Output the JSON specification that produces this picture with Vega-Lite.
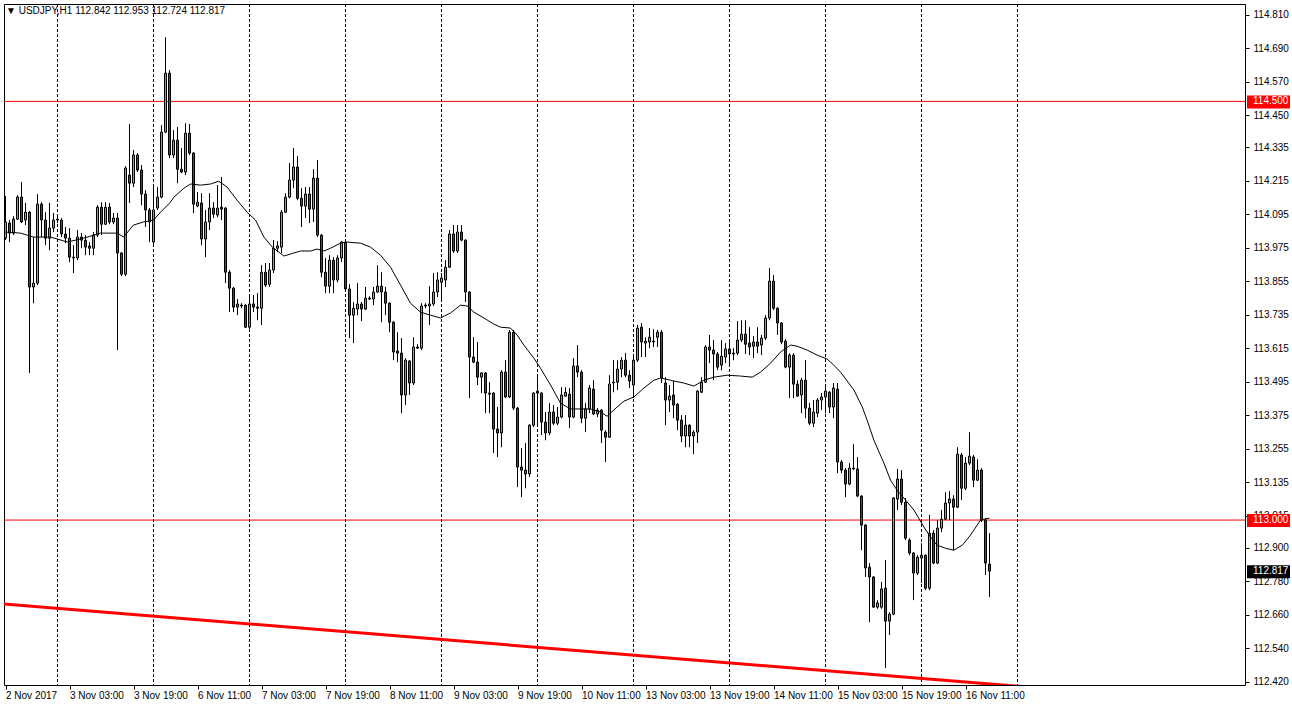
{
  "$schema": "https://vega.github.io/schema/vega-lite/v6.json",
  "width": 1241,
  "height": 681,
  "autosize": {"type": "none"},
  "padding": {"left": 4, "top": 4, "right": 47, "bottom": 23},
  "background": "white",
  "title": {"text": "▼ USDJPY,H1  112.842 112.953 112.724 112.817", "anchor": "start", "orient": "top", "offset": -12, "fontSize": 10, "fontWeight": "normal", "font": "Liberation Sans", "color": "black", "dx": 2, "frame": "group"},
  "config": {
    "font": "Liberation Sans",
    "view": {"stroke": "black", "strokeWidth": 1},
    "scale": {"continuousPadding": 0},
    "axis": {"labelFont": "Liberation Sans", "labelFontSize": 10, "labelColor": "black", "tickColor": "black", "domain": false, "grid": false, "title": null, "labelOverlap": false, "labelFlush": false, "labelBound": false}
  },
  "datasets": {
    "candles": [
      {"i":-13,"o":114.010,"h":114.161,"l":114.003,"c":114.068},
      {"i":-12,"o":114.064,"h":114.075,"l":113.996,"c":114.028},
      {"i":-11,"o":114.028,"h":114.089,"l":114.021,"c":114.078},
      {"i":-10,"o":114.078,"h":114.164,"l":114.075,"c":114.157},
      {"i":-9,"o":114.157,"h":114.211,"l":114.064,"c":114.068},
      {"i":-8,"o":114.075,"h":114.136,"l":114.057,"c":114.103},
      {"i":-7,"o":114.103,"h":114.107,"l":113.527,"c":113.835},
      {"i":-6,"o":113.835,"h":114.014,"l":113.777,"c":113.849},
      {"i":-5,"o":113.849,"h":114.168,"l":113.842,"c":114.132},
      {"i":-4,"o":114.132,"h":114.139,"l":114.014,"c":114.075},
      {"i":-3,"o":114.075,"h":114.103,"l":113.985,"c":114.010},
      {"i":-2,"o":114.010,"h":114.136,"l":113.967,"c":114.046},
      {"i":-1,"o":114.046,"h":114.100,"l":114.032,"c":114.075},
      {"i":0,"o":114.075,"h":114.089,"l":114.064,"c":114.078},
      {"i":1,"o":114.075,"h":114.082,"l":114.014,"c":114.025},
      {"i":2,"o":114.025,"h":114.050,"l":113.992,"c":114.010},
      {"i":3,"o":114.010,"h":114.046,"l":113.924,"c":113.942},
      {"i":4,"o":113.942,"h":113.985,"l":113.885,"c":113.939},
      {"i":5,"o":113.939,"h":114.039,"l":113.931,"c":114.014},
      {"i":6,"o":114.014,"h":114.028,"l":113.974,"c":114.003},
      {"i":7,"o":114.003,"h":114.021,"l":113.949,"c":113.978},
      {"i":8,"o":113.982,"h":113.996,"l":113.949,"c":113.974},
      {"i":9,"o":113.974,"h":114.032,"l":113.949,"c":114.021},
      {"i":10,"o":114.021,"h":114.128,"l":114.014,"c":114.121},
      {"i":11,"o":114.121,"h":114.139,"l":114.021,"c":114.060},
      {"i":12,"o":114.060,"h":114.139,"l":114.057,"c":114.121},
      {"i":13,"o":114.121,"h":114.136,"l":114.060,"c":114.068},
      {"i":14,"o":114.068,"h":114.100,"l":114.060,"c":114.082},
      {"i":15,"o":114.082,"h":114.100,"l":113.609,"c":113.957},
      {"i":16,"o":113.957,"h":113.960,"l":113.874,"c":113.881},
      {"i":17,"o":113.881,"h":114.268,"l":113.874,"c":114.261},
      {"i":18,"o":114.236,"h":114.419,"l":114.136,"c":114.207},
      {"i":19,"o":114.207,"h":114.326,"l":114.193,"c":114.308},
      {"i":20,"o":114.308,"h":114.315,"l":114.247,"c":114.254},
      {"i":21,"o":114.254,"h":114.272,"l":114.128,"c":114.168},
      {"i":22,"o":114.168,"h":114.182,"l":114.050,"c":114.111},
      {"i":23,"o":114.111,"h":114.118,"l":113.996,"c":114.068},
      {"i":24,"o":113.996,"h":114.193,"l":113.985,"c":114.111},
      {"i":25,"o":114.118,"h":114.193,"l":114.111,"c":114.157},
      {"i":26,"o":114.157,"h":114.415,"l":114.153,"c":114.390},
      {"i":27,"o":114.390,"h":114.730,"l":114.386,"c":114.601},
      {"i":28,"o":114.601,"h":114.612,"l":114.297,"c":114.308},
      {"i":29,"o":114.308,"h":114.397,"l":114.297,"c":114.361},
      {"i":30,"o":114.361,"h":114.408,"l":114.207,"c":114.257},
      {"i":31,"o":114.257,"h":114.333,"l":114.243,"c":114.247},
      {"i":32,"o":114.247,"h":114.422,"l":114.236,"c":114.386},
      {"i":33,"o":114.386,"h":114.419,"l":114.308,"c":114.315},
      {"i":34,"o":114.315,"h":114.318,"l":114.100,"c":114.132},
      {"i":35,"o":114.125,"h":114.175,"l":114.121,"c":114.139},
      {"i":36,"o":114.136,"h":114.171,"l":113.985,"c":114.007},
      {"i":37,"o":114.007,"h":114.111,"l":113.942,"c":114.068},
      {"i":38,"o":114.068,"h":114.171,"l":114.039,"c":114.118},
      {"i":39,"o":114.118,"h":114.139,"l":114.082,"c":114.096},
      {"i":40,"o":114.093,"h":114.200,"l":114.085,"c":114.118},
      {"i":41,"o":114.121,"h":114.229,"l":114.075,"c":114.114},
      {"i":42,"o":114.118,"h":114.121,"l":113.849,"c":113.888},
      {"i":43,"o":113.888,"h":113.896,"l":113.745,"c":113.831},
      {"i":44,"o":113.831,"h":113.835,"l":113.745,"c":113.763},
      {"i":45,"o":113.763,"h":113.792,"l":113.734,"c":113.774},
      {"i":46,"o":113.770,"h":113.777,"l":113.759,"c":113.767},
      {"i":47,"o":113.770,"h":113.773,"l":113.688,"c":113.691},
      {"i":48,"o":113.691,"h":113.799,"l":113.681,"c":113.774},
      {"i":49,"o":113.774,"h":113.806,"l":113.745,"c":113.763},
      {"i":50,"o":113.763,"h":113.813,"l":113.716,"c":113.759},
      {"i":51,"o":113.759,"h":113.913,"l":113.699,"c":113.888},
      {"i":52,"o":113.888,"h":113.921,"l":113.835,"c":113.842},
      {"i":53,"o":113.845,"h":113.921,"l":113.835,"c":113.896},
      {"i":54,"o":113.896,"h":114.003,"l":113.885,"c":113.974},
      {"i":55,"o":113.974,"h":113.999,"l":113.960,"c":113.982},
      {"i":56,"o":113.978,"h":114.111,"l":113.957,"c":114.103},
      {"i":57,"o":114.103,"h":114.171,"l":114.100,"c":114.157},
      {"i":58,"o":114.157,"h":114.279,"l":114.153,"c":114.218},
      {"i":59,"o":114.218,"h":114.333,"l":114.189,"c":114.265},
      {"i":60,"o":114.265,"h":114.304,"l":114.146,"c":114.153},
      {"i":61,"o":114.153,"h":114.189,"l":114.050,"c":114.125},
      {"i":62,"o":114.125,"h":114.193,"l":114.082,"c":114.168},
      {"i":63,"o":114.168,"h":114.193,"l":114.064,"c":114.114},
      {"i":64,"o":114.114,"h":114.257,"l":114.068,"c":114.225},
      {"i":65,"o":114.225,"h":114.290,"l":114.014,"c":114.021},
      {"i":66,"o":114.021,"h":114.024,"l":113.870,"c":113.888},
      {"i":67,"o":113.888,"h":113.939,"l":113.813,"c":113.838},
      {"i":68,"o":113.838,"h":113.949,"l":113.813,"c":113.931},
      {"i":69,"o":113.931,"h":113.942,"l":113.813,"c":113.860},
      {"i":70,"o":113.860,"h":113.949,"l":113.852,"c":113.939},
      {"i":71,"o":113.939,"h":113.999,"l":113.924,"c":113.996},
      {"i":72,"o":113.996,"h":113.999,"l":113.824,"c":113.828},
      {"i":73,"o":113.828,"h":113.845,"l":113.652,"c":113.734},
      {"i":74,"o":113.734,"h":113.781,"l":113.634,"c":113.759},
      {"i":75,"o":113.756,"h":113.849,"l":113.734,"c":113.774},
      {"i":76,"o":113.774,"h":113.781,"l":113.713,"c":113.756},
      {"i":77,"o":113.756,"h":113.835,"l":113.752,"c":113.795},
      {"i":78,"o":113.792,"h":113.802,"l":113.788,"c":113.795},
      {"i":79,"o":113.792,"h":113.835,"l":113.770,"c":113.817},
      {"i":80,"o":113.817,"h":113.913,"l":113.814,"c":113.838},
      {"i":81,"o":113.838,"h":113.888,"l":113.709,"c":113.817},
      {"i":82,"o":113.817,"h":113.835,"l":113.734,"c":113.777},
      {"i":83,"o":113.777,"h":113.780,"l":113.673,"c":113.709},
      {"i":84,"o":113.709,"h":113.712,"l":113.573,"c":113.602},
      {"i":85,"o":113.605,"h":113.673,"l":113.566,"c":113.598},
      {"i":86,"o":113.598,"h":113.652,"l":113.383,"c":113.448},
      {"i":87,"o":113.448,"h":113.580,"l":113.412,"c":113.573},
      {"i":88,"o":113.570,"h":113.573,"l":113.448,"c":113.491},
      {"i":89,"o":113.491,"h":113.655,"l":113.484,"c":113.620},
      {"i":90,"o":113.620,"h":113.630,"l":113.613,"c":113.616},
      {"i":91,"o":113.616,"h":113.777,"l":113.609,"c":113.767},
      {"i":92,"o":113.770,"h":113.777,"l":113.759,"c":113.767},
      {"i":93,"o":113.767,"h":113.838,"l":113.699,"c":113.774},
      {"i":94,"o":113.774,"h":113.885,"l":113.767,"c":113.817},
      {"i":95,"o":113.817,"h":113.888,"l":113.799,"c":113.860},
      {"i":96,"o":113.852,"h":113.885,"l":113.788,"c":113.867},
      {"i":97,"o":113.860,"h":113.931,"l":113.835,"c":113.906},
      {"i":98,"o":113.906,"h":114.039,"l":113.903,"c":114.025},
      {"i":99,"o":114.025,"h":114.057,"l":113.957,"c":113.964},
      {"i":100,"o":113.964,"h":114.057,"l":113.957,"c":114.032},
      {"i":101,"o":114.032,"h":114.057,"l":113.999,"c":114.003},
      {"i":102,"o":114.003,"h":114.006,"l":113.781,"c":113.817},
      {"i":103,"o":113.817,"h":113.820,"l":113.437,"c":113.584},
      {"i":104,"o":113.584,"h":113.655,"l":113.562,"c":113.566},
      {"i":105,"o":113.566,"h":113.638,"l":113.484,"c":113.512},
      {"i":106,"o":113.512,"h":113.530,"l":113.455,"c":113.527},
      {"i":107,"o":113.527,"h":113.530,"l":113.383,"c":113.455},
      {"i":108,"o":113.455,"h":113.494,"l":113.383,"c":113.451},
      {"i":109,"o":113.455,"h":113.458,"l":113.240,"c":113.326},
      {"i":110,"o":113.326,"h":113.405,"l":113.226,"c":113.312},
      {"i":111,"o":113.312,"h":113.537,"l":113.261,"c":113.530},
      {"i":112,"o":113.530,"h":113.573,"l":113.437,"c":113.441},
      {"i":113,"o":113.441,"h":113.681,"l":113.437,"c":113.673},
      {"i":114,"o":113.673,"h":113.681,"l":113.394,"c":113.401},
      {"i":115,"o":113.401,"h":113.405,"l":113.118,"c":113.190},
      {"i":116,"o":113.190,"h":113.258,"l":113.082,"c":113.179},
      {"i":117,"o":113.179,"h":113.276,"l":113.114,"c":113.165},
      {"i":118,"o":113.165,"h":113.343,"l":113.154,"c":113.340},
      {"i":119,"o":113.340,"h":113.458,"l":113.333,"c":113.455},
      {"i":120,"o":113.462,"h":113.519,"l":113.340,"c":113.455},
      {"i":121,"o":113.455,"h":113.458,"l":113.304,"c":113.351},
      {"i":122,"o":113.351,"h":113.387,"l":113.286,"c":113.312},
      {"i":123,"o":113.312,"h":113.419,"l":113.304,"c":113.387},
      {"i":124,"o":113.387,"h":113.412,"l":113.340,"c":113.347},
      {"i":125,"o":113.347,"h":113.405,"l":113.340,"c":113.369},
      {"i":126,"o":113.369,"h":113.476,"l":113.365,"c":113.448},
      {"i":127,"o":113.444,"h":113.476,"l":113.441,"c":113.458},
      {"i":128,"o":113.451,"h":113.473,"l":113.329,"c":113.369},
      {"i":129,"o":113.369,"h":113.580,"l":113.365,"c":113.552},
      {"i":130,"o":113.552,"h":113.627,"l":113.512,"c":113.530},
      {"i":131,"o":113.530,"h":113.537,"l":113.347,"c":113.365},
      {"i":132,"o":113.365,"h":113.419,"l":113.315,"c":113.398},
      {"i":133,"o":113.398,"h":113.484,"l":113.383,"c":113.473},
      {"i":134,"o":113.469,"h":113.501,"l":113.376,"c":113.380},
      {"i":135,"o":113.380,"h":113.401,"l":113.369,"c":113.394},
      {"i":136,"o":113.394,"h":113.397,"l":113.276,"c":113.322},
      {"i":137,"o":113.315,"h":113.322,"l":113.208,"c":113.297},
      {"i":138,"o":113.297,"h":113.519,"l":113.294,"c":113.487},
      {"i":139,"o":113.491,"h":113.573,"l":113.458,"c":113.494},
      {"i":140,"o":113.494,"h":113.573,"l":113.466,"c":113.541},
      {"i":141,"o":113.541,"h":113.584,"l":113.512,"c":113.573},
      {"i":142,"o":113.573,"h":113.598,"l":113.512,"c":113.519},
      {"i":143,"o":113.519,"h":113.537,"l":113.473,"c":113.498},
      {"i":144,"o":113.484,"h":113.584,"l":113.437,"c":113.573},
      {"i":145,"o":113.573,"h":113.699,"l":113.566,"c":113.688},
      {"i":146,"o":113.691,"h":113.706,"l":113.584,"c":113.638},
      {"i":147,"o":113.634,"h":113.655,"l":113.584,"c":113.641},
      {"i":148,"o":113.638,"h":113.688,"l":113.616,"c":113.655},
      {"i":149,"o":113.641,"h":113.684,"l":113.620,"c":113.638},
      {"i":150,"o":113.655,"h":113.681,"l":113.620,"c":113.673},
      {"i":151,"o":113.673,"h":113.681,"l":113.491,"c":113.509},
      {"i":152,"o":113.491,"h":113.512,"l":113.340,"c":113.430},
      {"i":153,"o":113.430,"h":113.484,"l":113.387,"c":113.444},
      {"i":154,"o":113.448,"h":113.498,"l":113.365,"c":113.412},
      {"i":155,"o":113.415,"h":113.419,"l":113.322,"c":113.358},
      {"i":156,"o":113.358,"h":113.376,"l":113.279,"c":113.301},
      {"i":157,"o":113.301,"h":113.376,"l":113.261,"c":113.340},
      {"i":158,"o":113.340,"h":113.343,"l":113.261,"c":113.301},
      {"i":159,"o":113.301,"h":113.322,"l":113.236,"c":113.315},
      {"i":160,"o":113.315,"h":113.466,"l":113.276,"c":113.462},
      {"i":161,"o":113.458,"h":113.512,"l":113.455,"c":113.494},
      {"i":162,"o":113.494,"h":113.627,"l":113.491,"c":113.620},
      {"i":163,"o":113.620,"h":113.663,"l":113.562,"c":113.609},
      {"i":164,"o":113.609,"h":113.645,"l":113.501,"c":113.595},
      {"i":165,"o":113.595,"h":113.602,"l":113.537,"c":113.548},
      {"i":166,"o":113.555,"h":113.645,"l":113.537,"c":113.587},
      {"i":167,"o":113.584,"h":113.634,"l":113.562,"c":113.613},
      {"i":168,"o":113.613,"h":113.645,"l":113.552,"c":113.595},
      {"i":169,"o":113.598,"h":113.616,"l":113.573,"c":113.595},
      {"i":170,"o":113.598,"h":113.713,"l":113.591,"c":113.645},
      {"i":171,"o":113.645,"h":113.716,"l":113.638,"c":113.666},
      {"i":172,"o":113.666,"h":113.716,"l":113.595,"c":113.630},
      {"i":173,"o":113.634,"h":113.691,"l":113.591,"c":113.620},
      {"i":174,"o":113.623,"h":113.659,"l":113.580,"c":113.638},
      {"i":175,"o":113.638,"h":113.691,"l":113.598,"c":113.623},
      {"i":176,"o":113.627,"h":113.663,"l":113.591,"c":113.652},
      {"i":177,"o":113.652,"h":113.734,"l":113.645,"c":113.724},
      {"i":178,"o":113.724,"h":113.903,"l":113.716,"c":113.856},
      {"i":179,"o":113.856,"h":113.878,"l":113.752,"c":113.759},
      {"i":180,"o":113.759,"h":113.762,"l":113.663,"c":113.706},
      {"i":181,"o":113.706,"h":113.709,"l":113.630,"c":113.638},
      {"i":182,"o":113.641,"h":113.648,"l":113.544,"c":113.548},
      {"i":183,"o":113.548,"h":113.598,"l":113.437,"c":113.591},
      {"i":184,"o":113.591,"h":113.598,"l":113.437,"c":113.487},
      {"i":185,"o":113.487,"h":113.501,"l":113.441,"c":113.444},
      {"i":186,"o":113.448,"h":113.509,"l":113.383,"c":113.501},
      {"i":187,"o":113.501,"h":113.573,"l":113.365,"c":113.401},
      {"i":188,"o":113.401,"h":113.419,"l":113.340,"c":113.347},
      {"i":189,"o":113.347,"h":113.430,"l":113.333,"c":113.387},
      {"i":190,"o":113.383,"h":113.437,"l":113.369,"c":113.430},
      {"i":191,"o":113.430,"h":113.455,"l":113.394,"c":113.441},
      {"i":192,"o":113.441,"h":113.476,"l":113.383,"c":113.462},
      {"i":193,"o":113.458,"h":113.462,"l":113.383,"c":113.405},
      {"i":194,"o":113.405,"h":113.491,"l":113.365,"c":113.473},
      {"i":195,"o":113.469,"h":113.491,"l":113.168,"c":113.208},
      {"i":196,"o":113.208,"h":113.215,"l":113.168,"c":113.179},
      {"i":197,"o":113.179,"h":113.186,"l":113.082,"c":113.129},
      {"i":198,"o":113.129,"h":113.204,"l":113.125,"c":113.186},
      {"i":199,"o":113.186,"h":113.272,"l":113.179,"c":113.183},
      {"i":200,"o":113.183,"h":113.226,"l":113.082,"c":113.086},
      {"i":201,"o":113.086,"h":113.089,"l":112.892,"c":112.982},
      {"i":202,"o":112.982,"h":112.985,"l":112.796,"c":112.828},
      {"i":203,"o":112.831,"h":112.846,"l":112.634,"c":112.796},
      {"i":204,"o":112.796,"h":112.799,"l":112.685,"c":112.688},
      {"i":205,"o":112.688,"h":112.713,"l":112.682,"c":112.703},
      {"i":206,"o":112.688,"h":112.778,"l":112.682,"c":112.753},
      {"i":207,"o":112.756,"h":112.857,"l":112.470,"c":112.638},
      {"i":208,"o":112.638,"h":112.670,"l":112.588,"c":112.663},
      {"i":209,"o":112.663,"h":113.082,"l":112.659,"c":113.079},
      {"i":210,"o":113.075,"h":113.183,"l":113.036,"c":113.147},
      {"i":211,"o":113.147,"h":113.179,"l":113.054,"c":113.064},
      {"i":212,"o":113.064,"h":113.079,"l":112.928,"c":112.935},
      {"i":213,"o":112.928,"h":112.935,"l":112.874,"c":112.882},
      {"i":214,"o":112.882,"h":112.885,"l":112.713,"c":112.810},
      {"i":215,"o":112.810,"h":112.874,"l":112.803,"c":112.867},
      {"i":216,"o":112.864,"h":112.917,"l":112.774,"c":112.874},
      {"i":217,"o":112.874,"h":112.877,"l":112.749,"c":112.756},
      {"i":218,"o":112.756,"h":113.018,"l":112.749,"c":112.953},
      {"i":219,"o":112.953,"h":112.964,"l":112.842,"c":112.846},
      {"i":220,"o":112.846,"h":113.000,"l":112.842,"c":112.971},
      {"i":221,"o":112.971,"h":113.036,"l":112.957,"c":113.003},
      {"i":222,"o":113.003,"h":113.100,"l":113.000,"c":113.061},
      {"i":223,"o":113.061,"h":113.104,"l":113.000,"c":113.075},
      {"i":224,"o":113.075,"h":113.089,"l":112.892,"c":113.046},
      {"i":225,"o":113.046,"h":113.261,"l":113.043,"c":113.236},
      {"i":226,"o":113.233,"h":113.240,"l":113.072,"c":113.114},
      {"i":227,"o":113.114,"h":113.226,"l":113.107,"c":113.204},
      {"i":228,"o":113.204,"h":113.315,"l":113.197,"c":113.229},
      {"i":229,"o":113.226,"h":113.233,"l":113.118,"c":113.143},
      {"i":230,"o":113.143,"h":113.218,"l":113.140,"c":113.179},
      {"i":231,"o":113.179,"h":113.186,"l":112.993,"c":113.000},
      {"i":232,"o":113.000,"h":113.007,"l":112.803,"c":112.846},
      {"i":233,"o":112.842,"h":112.953,"l":112.724,"c":112.817}
    ],
    "ma": [
      {"i":-13,"ma":114.032},{"i":-9.25,"ma":114.028},{"i":-6,"ma":114.014},{"i":-1.75,"ma":114.014},{"i":2.5,"ma":113.996},{"i":6.5,"ma":114.010},{"i":10.75,"ma":114.028},{"i":15,"ma":114.028},{"i":16.5,"ma":114.014},{"i":19,"ma":114.057},{"i":21.5,"ma":114.068},{"i":24,"ma":114.075},{"i":25.75,"ma":114.103},{"i":28.25,"ma":114.139},{"i":29.1,"ma":114.157},{"i":31.6,"ma":114.189},{"i":33.25,"ma":114.204},{"i":35.75,"ma":114.200},{"i":38.25,"ma":114.204},{"i":40.3,"ma":114.214},{"i":42.4,"ma":114.193},{"i":44.9,"ma":114.146},{"i":47.4,"ma":114.103},{"i":49.5,"ma":114.075},{"i":51.6,"ma":114.014},{"i":53.7,"ma":113.978},{"i":56.6,"ma":113.946},{"i":59.1,"ma":113.957},{"i":60.75,"ma":113.964},{"i":63.25,"ma":113.964},{"i":64.9,"ma":113.971},{"i":66.6,"ma":113.964},{"i":68.25,"ma":113.974},{"i":70.75,"ma":113.992},{"i":72.4,"ma":113.996},{"i":75.75,"ma":113.992},{"i":78.25,"ma":113.978},{"i":80.75,"ma":113.949},{"i":83.25,"ma":113.906},{"i":85.75,"ma":113.842},{"i":88.25,"ma":113.777},{"i":90.75,"ma":113.745},{"i":93.25,"ma":113.734},{"i":95.75,"ma":113.724},{"i":98.25,"ma":113.742},{"i":100.75,"ma":113.770},{"i":102.4,"ma":113.767},{"i":104.1,"ma":113.745},{"i":106.6,"ma":113.724},{"i":109.1,"ma":113.702},{"i":110.75,"ma":113.691},{"i":113.25,"ma":113.688},{"i":114.9,"ma":113.663},{"i":116.6,"ma":113.627},{"i":119.1,"ma":113.580},{"i":120.75,"ma":113.544},{"i":123.25,"ma":113.484},{"i":125.75,"ma":113.419},{"i":128.25,"ma":113.398},{"i":130.75,"ma":113.398},{"i":133.25,"ma":113.398},{"i":135.75,"ma":113.387},{"i":137.4,"ma":113.372},{"i":139.9,"ma":113.405},{"i":141.6,"ma":113.426},{"i":144.1,"ma":113.441},{"i":146.6,"ma":113.473},{"i":149.1,"ma":113.501},{"i":150.75,"ma":113.509},{"i":153.25,"ma":113.501},{"i":154.1,"ma":113.498},{"i":156.6,"ma":113.491},{"i":159.1,"ma":113.480},{"i":161.6,"ma":113.501},{"i":164.1,"ma":113.512},{"i":167.4,"ma":113.519},{"i":170.75,"ma":113.516},{"i":173.7,"ma":113.512},{"i":175.75,"ma":113.530},{"i":178.25,"ma":113.562},{"i":180.75,"ma":113.602},{"i":183.25,"ma":113.627},{"i":184.9,"ma":113.623},{"i":187.4,"ma":113.609},{"i":189.9,"ma":113.591},{"i":192.4,"ma":113.577},{"i":194.1,"ma":113.555},{"i":195.75,"ma":113.530},{"i":199.1,"ma":113.466},{"i":201.2,"ma":113.405},{"i":202.4,"ma":113.358},{"i":204.1,"ma":113.286},{"i":206.6,"ma":113.204},{"i":208.25,"ma":113.143},{"i":209.9,"ma":113.107},{"i":212,"ma":113.072},{"i":214.1,"ma":113.036},{"i":216.6,"ma":112.975},{"i":218.25,"ma":112.939},{"i":219.9,"ma":112.910},{"i":222,"ma":112.899},{"i":224.1,"ma":112.892},{"i":226.2,"ma":112.910},{"i":228.25,"ma":112.946},{"i":230.75,"ma":113.000},{"i":233,"ma":113.007}
    ],
    "days": [{"i":0},{"i":24},{"i":48},{"i":72},{"i":96},{"i":120},{"i":144},{"i":168},{"i":192},{"i":216},{"i":240}],
    "trend": [{"i":-13.5,"p":112.699},{"i":250,"p":112.393}],
    "levels": [{"p":114.5},{"p":113.0}],
    "tags": [
      {"p":114.5,"label":"114.500","kind":"level"},
      {"p":113.0,"label":"113.000","kind":"level"},
      {"p":112.817,"label":"112.817","kind":"bid"}
    ]
  },
  "layer": [
    {
      "data": {"name": "days"},
      "mark": {"type": "rule", "color": "black", "strokeWidth": 1, "strokeDash": [3, 2]},
      "encoding": {
        "x": {"field": "i", "type": "quantitative", "title": null}
      }
    },
    {
      "data": {"name": "levels"},
      "mark": {"type": "rule", "color": "#ff0000", "strokeWidth": 1},
      "encoding": {
        "y": {"field": "p", "type": "quantitative", "title": null}
      }
    },
    {
      "data": {"name": "trend"},
      "mark": {"type": "line", "color": "#ff0000", "strokeWidth": 3, "clip": true},
      "encoding": {
        "x": {"field": "i", "type": "quantitative", "title": null},
        "y": {"field": "p", "type": "quantitative", "title": null}
      }
    },
    {
      "data": {"name": "candles"},
      "mark": {"type": "rule", "color": "black", "strokeWidth": 1},
      "encoding": {
        "x": {
          "field": "i", "type": "quantitative", "title": null,
          "scale": {"domain": [-13.375, 296.875], "nice": false, "zero": false, "padding": 0},
          "axis": {
            "orient": "bottom",
            "values": [-13, 3, 19, 35, 51, 67, 83, 99, 115, 131, 147, 163, 179, 195, 211, 227],
            "tickCount": 40,
            "labelExpr": "datum.value < 0 ? '2 Nov 2017' : ['3 Nov 03:00','3 Nov 19:00','6 Nov 11:00','7 Nov 03:00','7 Nov 19:00','8 Nov 11:00','9 Nov 03:00','9 Nov 19:00','10 Nov 11:00','13 Nov 03:00','13 Nov 19:00','14 Nov 11:00','15 Nov 03:00','15 Nov 19:00','16 Nov 11:00'][(datum.value - 3) / 16]",
            "tickSize": 4, "labelAlign": "left", "labelPadding": 1, "labelFlush": false, "labelOverlap": false, "labelBound": false, "grid": false, "domain": false
          }
        },
        "y": {
          "field": "l", "type": "quantitative", "title": null,
          "scale": {"domain": [112.409, 114.849], "nice": false, "zero": false, "padding": 0},
          "axis": {
            "orient": "right",
            "values": [114.81, 114.69, 114.57, 114.45, 114.335, 114.215, 114.095, 113.975, 113.855, 113.735, 113.615, 113.495, 113.375, 113.255, 113.135, 113.015, 112.9, 112.78, 112.66, 112.54, 112.42],
            "tickCount": 40,
            "format": ".3f", "tickSize": 4, "labelPadding": 4, "labelFlush": false, "labelOverlap": false, "labelBound": false, "grid": false, "domain": false, "labelBaseline": "middle"
          }
        },
        "y2": {"field": "h"}
      }
    },
    {
      "data": {"name": "candles"},
      "mark": {"type": "bar", "size": 2, "stroke": "black", "strokeWidth": 1},
      "encoding": {
        "x": {"field": "i", "type": "quantitative", "title": null},
        "y": {"field": "o", "type": "quantitative", "title": null},
        "y2": {"field": "c"},
        "fill": {"condition": {"test": "datum.c >= datum.o", "value": "#00ff00"}, "value": "#ff0000"}
      }
    },
    {
      "data": {"name": "ma"},
      "mark": {"type": "line", "color": "black", "strokeWidth": 1},
      "encoding": {
        "x": {"field": "i", "type": "quantitative", "title": null},
        "y": {"field": "ma", "type": "quantitative", "title": null}
      }
    },
    {
      "data": {"name": "tags"},
      "mark": {"type": "rect", "xOffset": 2, "x2Offset": 45, "yOffset": -6, "y2Offset": 7},
      "encoding": {
        "x": {"value": "width"},
        "x2": {"value": "width"},
        "y": {"field": "p", "type": "quantitative", "title": null},
        "y2": {"field": "p"},
        "fill": {"field": "kind", "type": "nominal", "scale": {"domain": ["level", "bid"], "range": ["#ff0000", "#000000"]}, "legend": null}
      }
    },
    {
      "data": {"name": "tags"},
      "mark": {"type": "text", "dx": 8, "align": "left", "baseline": "middle", "fontSize": 10, "font": "Liberation Sans", "color": "white"},
      "encoding": {
        "x": {"value": "width"},
        "y": {"field": "p", "type": "quantitative", "title": null},
        "text": {"field": "label"}
      }
    }
  ]
}
